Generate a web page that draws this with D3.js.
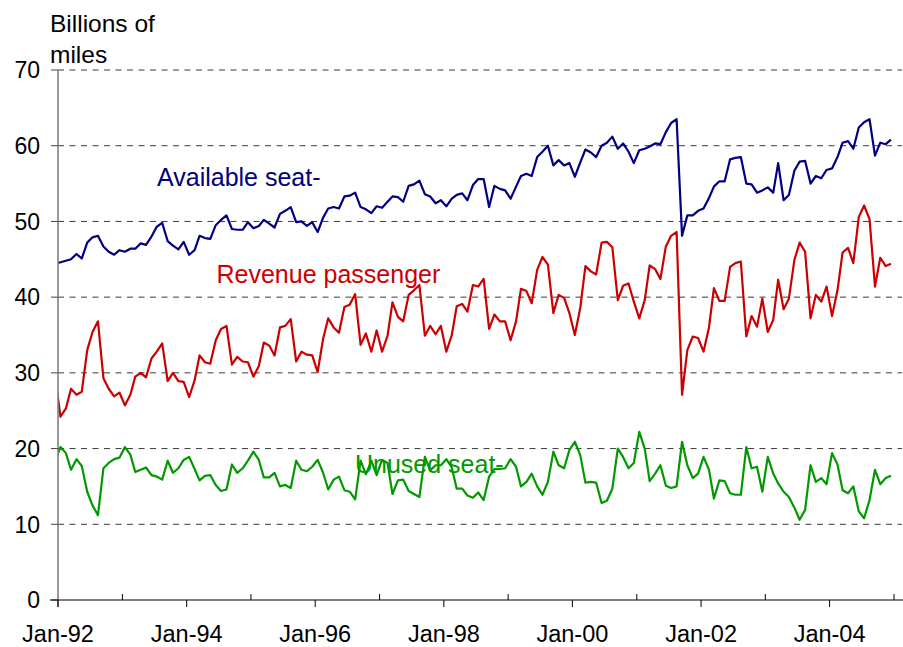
<!DOCTYPE html>
<html><head><meta charset="utf-8">
<script src="https://cdn.jsdelivr.net/npm/d3@7"></script>
<style>html,body{margin:0;padding:0;background:#fff}svg{display:block;font-family:"Liberation Sans",Arial,sans-serif}</style>
</head><body><svg id="chart" width="903" height="647"></svg>
<script>
// Monthly values, Jan-92 .. Dec-04 (billions of miles)
const available = [
44.6,44.8,45.0,45.7,45.1,47.2,47.9,48.1,46.7,46.0,45.6,46.2,
46.0,46.4,46.4,47.1,46.9,48.0,49.3,49.8,47.4,46.8,46.3,47.3,
45.6,46.2,48.1,47.8,47.7,49.5,50.2,50.8,49.0,48.9,48.9,49.9,
49.1,49.4,50.2,49.7,49.2,51.0,51.4,51.9,49.9,50.0,49.4,49.9,
48.6,50.5,51.7,51.9,51.7,53.3,53.4,53.8,51.9,51.6,51.1,52.0,
51.8,52.6,53.3,53.2,52.6,54.7,54.9,55.4,53.6,53.3,52.4,52.8,
52.0,53.0,53.5,53.7,52.8,54.8,55.6,55.6,51.9,54.7,54.3,54.1,
53.0,54.6,56.0,56.3,56.0,58.5,59.2,60.0,57.4,58.1,57.4,57.7,
55.9,57.8,59.5,59.1,58.5,60.0,60.4,61.2,59.6,60.3,59.2,57.7,
59.4,59.6,59.9,60.3,60.2,61.8,63.0,63.5,48.1,50.8,50.8,51.4,
51.7,53.1,54.6,55.3,55.3,58.2,58.4,58.5,55.0,54.9,53.8,54.1,
54.5,53.8,57.7,52.8,53.5,56.7,57.9,58.0,55.0,56.0,55.7,56.8,
57.0,58.5,60.4,60.6,59.6,62.4,63.1,63.5,58.7,60.4,60.2,60.8];
const revenue = [
24.2,25.3,27.9,27.1,27.5,33.0,35.4,36.8,29.3,27.9,26.9,27.4,
25.7,27.1,29.5,30.0,29.4,31.9,32.8,33.9,28.9,30.0,28.9,28.8,
26.8,29.0,32.3,31.4,31.2,34.3,35.8,36.2,31.1,32.1,31.5,31.4,
29.5,30.9,34.0,33.6,32.3,36.0,36.2,37.1,31.5,32.8,32.4,32.3,
30.1,34.5,37.2,36.0,35.3,38.7,39.0,40.4,33.7,35.2,32.8,35.6,
32.8,34.9,39.3,37.4,36.8,40.3,40.9,41.6,34.9,36.2,35.1,36.2,
32.8,35.0,38.8,39.1,38.1,41.6,41.4,42.4,35.8,37.7,36.8,36.8,
34.3,36.8,41.1,40.8,39.2,43.6,45.3,44.3,37.9,40.3,39.9,37.9,
35.0,38.6,44.1,43.4,43.0,47.2,47.3,46.6,39.6,41.5,41.8,39.4,
37.2,39.6,44.2,43.7,42.4,46.7,48.1,48.6,27.1,33.0,34.8,34.6,
32.8,36.0,41.2,39.5,39.5,44.0,44.5,44.7,34.8,37.5,36.1,39.8,
35.4,37.0,42.3,38.4,39.8,44.9,47.2,46.0,37.2,40.3,39.4,41.4,
37.5,40.9,45.9,46.5,44.5,50.6,52.1,50.3,41.4,45.2,44.1,44.4];
const unused = [
20.2,19.4,17.2,18.6,17.7,14.3,12.5,11.2,17.4,18.1,18.6,18.8,
20.2,19.2,16.9,17.2,17.5,16.5,16.3,15.9,18.4,16.8,17.4,18.5,
18.9,17.3,15.8,16.4,16.5,15.2,14.4,14.6,17.9,16.8,17.4,18.4,
19.6,18.5,16.2,16.2,16.8,15.0,15.2,14.8,18.4,17.2,17.0,17.6,
18.5,16.8,14.6,15.9,16.3,14.5,14.3,13.3,18.4,16.6,18.4,16.5,
18.5,18.1,14.0,15.8,15.9,14.4,14.0,13.6,18.9,17.1,17.8,17.8,
18.6,17.5,14.7,14.7,13.8,13.5,14.2,13.2,16.3,17.3,17.3,17.4,
18.6,17.6,15.0,15.6,16.7,15.0,13.9,15.6,19.6,17.8,17.4,19.8,
20.9,19.1,15.5,15.6,15.5,12.8,13.1,14.7,20.0,18.9,17.4,18.1,
22.2,20.0,15.7,16.7,17.8,15.1,14.8,15.0,20.9,17.8,16.1,16.7,
18.9,17.2,13.4,15.8,15.7,14.1,13.9,13.9,20.2,17.4,17.6,14.3,
18.9,16.7,15.4,14.3,13.6,12.2,10.6,11.9,17.8,15.6,16.1,15.3,
19.4,17.9,14.5,14.1,15.0,11.7,10.8,13.2,17.2,15.3,16.1,16.4];
// Dec-91 values (only a sliver shows at the left edge of the plot)
const leadAvailable = 44.5, leadRevenue = 29.7, leadUnused = 18.4;
const yTicks = [0,10,20,30,40,50,60,70];
const tickYears = d3.range(1992, 2006);
const seriesLabels = ["Available seat-", "Revenue passenger", "Unused seat-"];
const yTitle = ["Billions of", "miles"];

const months = d3.timeMonth.range(new Date(1992,0,1), new Date(2005,0,1))
  .map(d => new Date(d.getFullYear(), d.getMonth(), 15));
const leadDate = new Date(1991, 11, 15);

const svg = d3.select("#chart");
const L = 58, R = 902, T = 62, B = 600;
const x = d3.scaleTime().domain([new Date(1992,0,1), new Date(2005,0,1)]).range([58, 894]);
const y = d3.scaleLinear().domain([0,70]).range([600,70]);

svg.append("defs").append("clipPath").attr("id","plotclip")
  .append("rect").attr("x", L).attr("y", T).attr("width", R-L).attr("height", B-T+10);

// gridlines
svg.append("g").selectAll("line").data(yTicks.filter(v => v > 0)).join("line")
  .attr("x1", L).attr("x2", R).attr("y1", d => y(d)).attr("y2", d => y(d))
  .attr("stroke", "#3a3a3a").attr("stroke-width", 1).attr("stroke-dasharray", "6,5.5");

// series
const colors = ["#000080", "#cc0000", "#009900"];
const series = [
  [leadAvailable, available],
  [leadRevenue, revenue],
  [leadUnused, unused]
].map(([lead, arr]) => [{date: leadDate, v: lead}].concat(months.map((m,i) => ({date: m, v: arr[i]}))));
const line = d3.line().x(d => x(d.date)).y(d => y(d.v));
svg.append("g").attr("clip-path","url(#plotclip)").selectAll("path").data(series).join("path")
  .attr("d", line).attr("fill","none").attr("stroke", (d,i) => colors[i])
  .attr("stroke-width", 2.2).attr("stroke-linejoin","round");

// y axis
svg.append("line").attr("x1", L).attr("x2", L).attr("y1", y(70)).attr("y2", 607)
  .attr("stroke", "#808080").attr("stroke-width", 1.6);
svg.append("g").selectAll("line").data(yTicks).join("line")
  .attr("x1", 51).attr("x2", L).attr("y1", d => y(d)).attr("y2", d => y(d))
  .attr("stroke", "#444").attr("stroke-width", 1);
svg.append("g").selectAll("text").data(yTicks).join("text")
  .attr("x", 40).attr("y", d => y(d)).attr("dy", "0.36em").attr("text-anchor","end")
  .attr("font-size", 23).attr("fill","#000").text(d => d);

// x axis
svg.append("line").attr("x1", 50).attr("x2", 903).attr("y1", y(0)).attr("y2", y(0))
  .attr("stroke", "#000").attr("stroke-width", 1.2);
svg.append("g").selectAll("line").data(tickYears).join("line")
  .attr("x1", d => x(new Date(d,0,1))).attr("x2", d => x(new Date(d,0,1)))
  .attr("y1", d => d % 2 === 0 ? 600 : 594).attr("y2", d => d % 2 === 0 ? 607 : 600)
  .attr("stroke", "#000").attr("stroke-width", 1);
const fmt = d3.timeFormat("%b-%y");
svg.append("g").selectAll("text").data(tickYears.filter(d => d % 2 === 0)).join("text")
  .attr("x", d => x(new Date(d,0,1))).attr("y", 642).attr("text-anchor","middle")
  .attr("font-size", 23.5).attr("fill","#000").text(d => fmt(new Date(d,0,1)));

// axis title
svg.append("g").selectAll("text").data(yTitle).join("text")
  .attr("x", 50).attr("y", (d,i) => 31.5 + i*31.5).attr("font-size", 24.5).attr("fill","#000").text(d => d);

// series labels
const labelPos = [[157, 186], [216.5, 283], [355, 473]];
svg.append("g").selectAll("text").data(seriesLabels).join("text")
  .attr("x", (d,i) => labelPos[i][0]).attr("y", (d,i) => labelPos[i][1])
  .attr("font-size", 25).attr("fill", (d,i) => colors[i]).text(d => d);
</script></body></html>
